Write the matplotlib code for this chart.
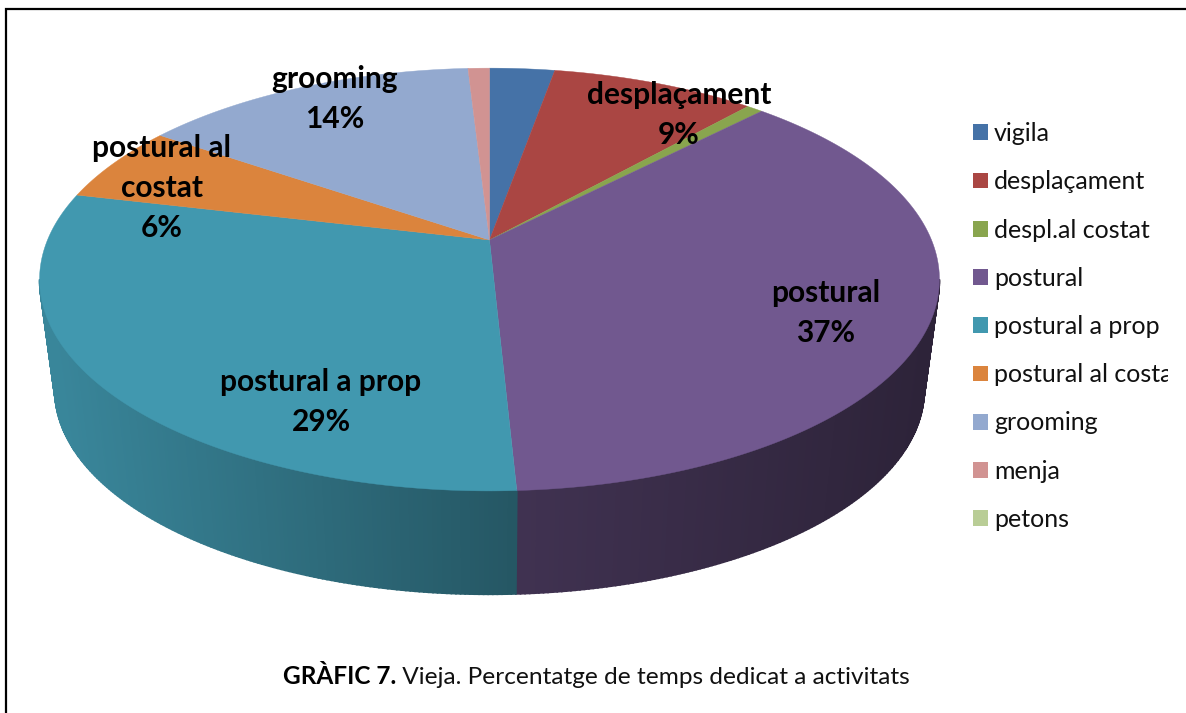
import numpy as np
import matplotlib
matplotlib.use('Agg')
import matplotlib.pyplot as plt
from matplotlib.patches import Patch
from matplotlib.colors import to_rgb
from matplotlib.transforms import Bbox

# dades del grafic
categories = ['vigila', 'desplaçament', 'despl.al costat', 'postural', 'postural a prop',
              'postural al costat', 'grooming', 'menja', 'petons']
values = [2.8, 8.8, 0.7, 36.9, 29.49, 5.9, 14.49, 0.92, 0.0]
colors = ['#4572a7', '#aa4643', '#89a54e', '#71588f', '#4198af',
          '#db843d', '#93a9cf', '#d19392', '#b9cd96']
label_names = ['desplaçament', 'postural', 'postural a prop', 'postural al\ncostat', 'grooming']

plt.rcParams['font.family'] = ['Lato', 'DejaVu Sans']

W, H = 1186, 713
label_pos = {'desplaçament': (679, 115), 'postural': (826, 313), 'postural a prop': (321, 402),
             'postural al\ncostat': (162, 188), 'grooming': (335, 99)}


# disc en perspectiva: theta en graus des de dalt, sentit horari
def project(theta, cy, a, b, k=0.187):
    t = np.radians(theta)
    d = 1 + k * np.cos(t)
    return 489.5 + a * np.sin(t) / d, cy - b * np.cos(t) / d


def top(theta):
    return project(theta, 240, 442, 204)


def low(theta):
    return project(theta, 352, 427, 197)


def shade(x):
    # foscor del lateral segons la x
    return np.interp(x, [55, 516, 925], [0.88, 0.57, 0.40])


fig = plt.figure(figsize=(W / 100, H / 100), dpi=100)
ax = fig.add_axes([0, 0, 1, 1])
ax.set_xlim(0, W)
ax.set_ylim(H, 0)
ax.axis('off')

edges = np.cumsum([0] + values) / np.sum(values) * 360

# lateral
limit = np.degrees(np.arccos(-0.187))
for i in range(len(values)):
    a0, a1 = max(edges[i], limit), min(edges[i + 1], 360 - limit)
    if a1 <= a0:
        continue
    steps = np.linspace(a0, a1, max(2, int(a1 - a0) * 2))
    for s0, s1 in zip(steps[:-1], steps[1:]):
        tx0, ty0 = top(s0)
        tx1, ty1 = top(s1)
        lx0, ly0 = low(s0)
        lx1, ly1 = low(s1)
        c = np.array(to_rgb(colors[i])) * shade((tx0 + tx1) / 2)
        ax.fill([tx0, tx1, lx1, lx0], [ty0, ty1, ly1, ly0], color=c, lw=1.2)

# cara superior
for i in range(len(values)):
    if values[i] == 0:
        continue
    th = np.linspace(edges[i], edges[i + 1], 200)
    x, y = top(th)
    ax.fill(np.r_[489.5, x], np.r_[240, y], color=colors[i], lw=0.3)

# etiquetes
for name in label_names:
    pct = values[categories.index(name.replace('\n', ' '))]
    px, py = label_pos[name]
    ax.text(px, py, f'{name}\n{pct:.0f}%', ha='center', va='center', fontsize=21.5,
            fontweight='bold', color='black', linespacing=1.52)

# llegenda
handles = [Patch(facecolor=c, edgecolor='none') for c in colors]
leg = ax.legend(handles, categories, loc='upper left', bbox_to_anchor=(973, 122),
                bbox_transform=ax.transData, frameon=False, fontsize=18,
                labelspacing=1.01, handlelength=0.6, handleheight=0.6,
                handletextpad=0.24, borderpad=0, borderaxespad=0)
clip = Bbox([[0, 0], [1168, H]])
for t in leg.get_texts():
    t.set_color('#111111')
    t.set_clip_on(True)
    t.set_clip_box(clip)

# titol
t1 = ax.text(283, 676, 'GRÀFIC 7.', ha='left', va='center', fontsize=17.6, fontweight='bold')
ax.annotate(' Vieja. Percentatge de temps dedicat a activitats', xy=(1, 0), xycoords=t1,
            ha='left', va='bottom', fontsize=17.6, color='#111111')

# marc
ax.plot([5.5, 5.5, W], [H, 9, 9], color='black', lw=1.6, solid_joinstyle='miter')

fig.savefig('out.png', dpi=100)
